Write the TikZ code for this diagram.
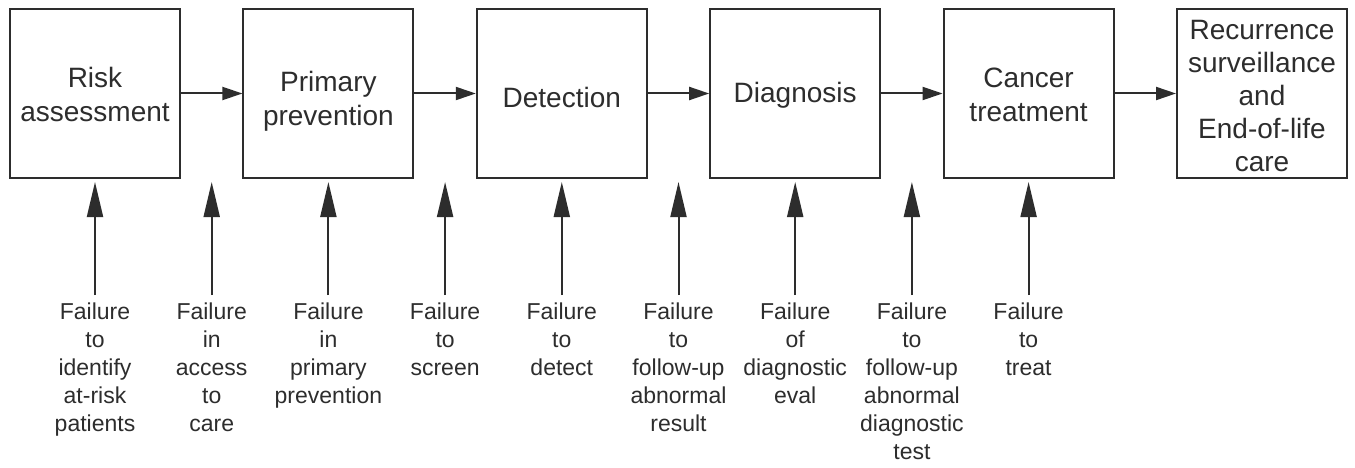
\documentclass[tikz,border=0pt]{standalone}
\usepackage{fontspec}
\setmainfont{Liberation Sans}
\usetikzlibrary{arrows.meta}
\definecolor{ink}{RGB}{45,45,45}
\begin{document}
\begin{tikzpicture}[x=1pt,y=-1pt,
  box/.style={draw=ink, line width=2pt, minimum width=170pt, minimum height=169pt,
    inner sep=0pt},
  btext/.style={inner sep=0pt, text width=168pt, align=center, text=ink,
    font=\fontsize{28}{34}\selectfont},
  lab/.style={anchor=north, align=center, inner xsep=0pt, inner ysep=8pt, text=ink,
    font=\fontsize{23}{28}\selectfont},
  flow/.style={draw=ink, line width=2pt, -{Triangle[length=20pt,width=13pt]}},
  up/.style={draw=ink, line width=2pt, -{Triangle[length=35pt,width=16pt]}}]
\useasboundingbox (0,0) rectangle (1355,468);
\fill[white] (0,0) rectangle (1355,468);
% boxes
\node[box] (b1) at (95,93.5) {};
\node[box] (b2) at (328.4,93.5) {};
\node[box] (b3) at (561.8,93.5) {};
\node[box] (b4) at (795.2,93.5) {};
\node[box] (b5) at (1028.6,93.5) {};
\node[box] (b6) at (1262,93.5) {};
\node[btext] (b1t) at ([yshift=-1pt]b1.center) {Risk\\assessment};
\node[btext] (b2t) at ([yshift=-8pt]b2.center) {Primary\\prevention};
\node[btext] (b3t) at ([yshift=-3.5pt]b3.center) {Detection};
\node[btext] (b4t) at ([yshift=-1.5pt]b4.center) {Diagnosis};
\node[btext] (b5t) at ([yshift=-1pt]b5.center) {Cancer\\treatment};
\node[btext, font=\fontsize{28}{33}\selectfont] (b6t) at ([yshift=-3pt]b6.center)
  {Recurrence\\surveillance\\and\\End-of-life\\care};
\draw[flow] (b1) -- (b2);
\draw[flow] (b2) -- (b3);
\draw[flow] (b3) -- (b4);
\draw[flow] (b4) -- (b5);
\draw[flow] (b5) -- (b6);
% failure labels
\node[lab] (l1) at (95,295) {Failure\\to\\identify\\at-risk\\patients};
\node[lab] (l2) at (211.7,295) {Failure\\in\\access\\to\\care};
\node[lab] (l3) at (328.4,295) {Failure\\in\\primary\\prevention};
\node[lab] (l4) at (445.1,295) {Failure\\to\\screen};
\node[lab] (l5) at (561.8,295) {Failure\\to\\detect};
\node[lab] (l6) at (678.5,295) {Failure\\to\\follow-up\\abnormal\\result};
\node[lab] (l7) at (795.2,295) {Failure\\of\\diagnostic\\eval};
\node[lab] (l8) at (911.9,295) {Failure\\to\\follow-up\\abnormal\\diagnostic\\test};
\node[lab] (l9) at (1028.6,295) {Failure\\to\\treat};
% arrow targets
\coordinate (t1) at (95,182);
\coordinate (t2) at (211.7,182);
\coordinate (t3) at (328.4,182);
\coordinate (t4) at (445.1,182);
\coordinate (t5) at (561.8,182);
\coordinate (t6) at (678.5,182);
\coordinate (t7) at (795.2,182);
\coordinate (t8) at (911.9,182);
\coordinate (t9) at (1028.6,182);
\foreach \i in {1,...,9} {\draw[up] (l\i.north) -- (t\i);}
\end{tikzpicture}
\end{document}
